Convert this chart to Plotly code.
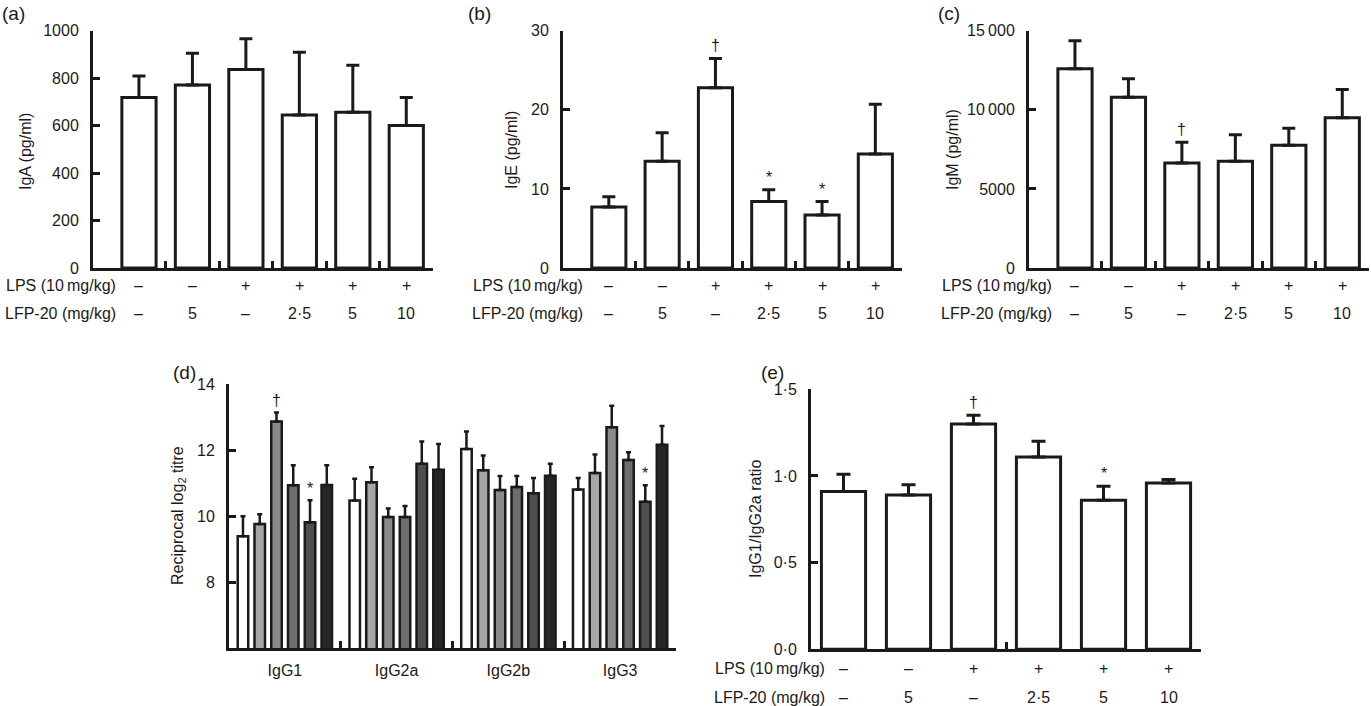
import plotly.graph_objects as go

W, H = 1371, 706
FONT = "Liberation Sans, Arial, sans-serif"
INK = "#1a1a1a"

# 处理组（6 组）
lps_row = ["–", "–", "+", "+", "+", "+"]
lfp_row = ["–", "5", "–", "2·5", "5", "10"]

# (a)-(c), (e): 均值 与 误差棒上端
iga_mean = [718, 771, 837, 645, 656, 600]
iga_upper = [809, 905, 966, 909, 854, 719]
ige_mean = [7.7, 13.5, 22.8, 8.4, 6.7, 14.4]
ige_upper = [9.0, 17.1, 26.5, 9.9, 8.4, 20.7]
ige_sig = ["", "", "†", "*", "*", ""]
igm_mean = [12600, 10790, 6630, 6750, 7760, 9490]
igm_upper = [14370, 11970, 7950, 8420, 8840, 11280]
igm_sig = ["", "", "†", "", "", ""]
ratio_mean = [0.91, 0.89, 1.30, 1.11, 0.86, 0.96]
ratio_upper = [1.01, 0.95, 1.35, 1.20, 0.94, 0.98]
ratio_sig = ["", "", "†", "", "*", ""]

# (d): 行 = 处理组, 列 = IgG 亚型
igg_classes = ["IgG1", "IgG2a", "IgG2b", "IgG3"]
titre_mean = [
    [9.39, 10.47, 12.03, 10.80],
    [9.76, 11.02, 11.39, 11.30],
    [12.86, 9.97, 10.79, 12.69],
    [10.93, 9.97, 10.88, 11.70],
    [9.81, 11.58, 10.69, 10.43],
    [10.94, 11.40, 11.22, 12.16],
]
titre_upper = [
    [9.99, 11.13, 12.56, 11.15],
    [10.05, 11.48, 11.83, 11.86],
    [13.14, 10.23, 11.21, 13.34],
    [11.54, 10.30, 11.21, 11.93],
    [10.48, 12.26, 11.15, 10.93],
    [11.54, 12.18, 11.58, 12.73],
]
titre_sig = [
    ["", "", "", ""],
    ["", "", "", ""],
    ["†", "", "", ""],
    ["", "", "", ""],
    ["*", "", "", "*"],
    ["", "", "", ""],
]
group_fill = ["#ffffff", "#a6a6a6", "#8a8a8a", "#6e6e6e", "#4f4f4f", "#262626"]


def px_x(p):
    return p / W


def px_y(p):
    return 1 - p / H


fig = go.Figure()
annotations = []


def note(**kw):
    kw.setdefault("showarrow", False)
    kw.setdefault("xanchor", "center")
    kw.setdefault("yanchor", "middle")
    kw.setdefault("font", dict(size=16))
    annotations.append(kw)


def add_single_panel(ax, mean, upper, sig, cap, bw):
    x = list(range(len(mean)))
    fig.add_trace(go.Bar(
        x=x, y=mean, width=bw, offset=-bw / 2, xaxis=f"x{ax}", yaxis=f"y{ax}",
        marker=dict(color="#ffffff", line=dict(color=INK, width=3)),
        error_y=dict(type="data", symmetric=False,
                     array=[u - m for u, m in zip(upper, mean)],
                     arrayminus=[0] * len(mean),
                     color=INK, thickness=3, width=cap),
        showlegend=False))
    for i, s in enumerate(sig):
        if s:
            note(x=i, y=upper[i], xref=f"x{ax}", yref=f"y{ax}", text=s,
                 yanchor="bottom", yshift=2)


def add_table(ax, label_right, y_lps, y_lfp):
    for yy, lab, row in [(y_lps, "LPS (10\u2009mg/kg)", lps_row),
                         (y_lfp, "LFP-20 (mg/kg)", lfp_row)]:
        note(x=px_x(label_right), y=px_y(yy), xref="paper", yref="paper",
             text=lab, xanchor="right")
        for i, t in enumerate(row):
            note(x=i, y=px_y(yy), xref=f"x{ax}", yref="paper", text=t)


add_single_panel("", iga_mean, iga_upper, [""] * 6, 6.5, 0.64)
add_single_panel("2", ige_mean, ige_upper, ige_sig, 6.5, 0.64)
add_single_panel("3", igm_mean, igm_upper, igm_sig, 6.5, 0.64)
add_single_panel("5", ratio_mean, ratio_upper, ratio_sig, 7, 0.68)

# (d) 分组柱状图
slot, bw_d = 0.15, 0.094
for k in range(6):
    fig.add_trace(go.Bar(
        x=igg_classes, y=titre_mean[k], xaxis="x4", yaxis="y4",
        width=bw_d, offset=-0.45 + k * slot + (slot - bw_d) / 2,
        marker=dict(color=group_fill[k], line=dict(color=INK, width=2.5)),
        error_y=dict(type="data", symmetric=False,
                     array=[u - m for u, m in zip(titre_upper[k], titre_mean[k])],
                     arrayminus=[0] * 4, color=INK, thickness=2.5, width=2.5),
        showlegend=False))
    for j, s in enumerate(titre_sig[k]):
        if s:
            note(x=j - 0.45 + (k + 0.5) * slot, y=titre_upper[k][j], xref="x4", yref="y4",
                 text=s, yanchor="bottom", yshift=1)

add_table("", 118, 285, 313)
add_table("2", 585, 285, 313)
add_table("3", 1054, 285, 313)
add_table("5", 827, 668, 697)

# y 轴标题
for cx, cy, t in [(25, 152, "IgA (pg/ml)"), (512, 150, "IgE (pg/ml)"),
                  (953, 150, "IgM (pg/ml)"), (178, 516, "Reciprocal log<sub>2</sub> titre"),
                  (755, 519, "IgG1/IgG2a ratio")]:
    note(x=px_x(cx), y=px_y(cy), xref="paper", yref="paper", text=t, textangle=-90)

# 面板字母
for lx, ly, t in [(0, 13, "(a)"), (466, 13, "(b)"), (936, 13, "(c)"),
                  (171, 373, "(d)"), (759, 373, "(e)")]:
    note(x=px_x(lx), y=px_y(ly), xref="paper", yref="paper", text=t,
         xanchor="left", font=dict(size=19))

axis_style = dict(showline=True, linecolor=INK, linewidth=3, showgrid=False, zeroline=False,
                  ticks="inside", ticklen=7, tickwidth=2.5, tickcolor=INK, automargin=False,
                  tickfont=dict(size=16, color=INK), fixedrange=True)
top_y = [px_y(268), px_y(30.7)]
boundaries = [0.5, 1.5, 2.5, 3.5, 4.5, 5.5]

fig.update_layout(
    width=W, height=H, margin=dict(l=0, r=0, t=0, b=0, pad=0, autoexpand=False),
    paper_bgcolor="white", plot_bgcolor="white",
    font=dict(family=FONT, color=INK, size=16),
    barmode="overlay", showlegend=False,
    annotations=annotations,
    xaxis=dict(domain=[px_x(93), px_x(433)], range=[-0.86, 5.5], anchor="y",
               tickvals=boundaries, showticklabels=False, **axis_style),
    yaxis=dict(domain=top_y, range=[0, 1000], anchor="x", tickvals=[0, 200, 400, 600, 800, 1000],
               ticklabelstandoff=8, **axis_style),
    xaxis2=dict(domain=[px_x(563), px_x(902)], range=[-0.86, 5.5], anchor="y2",
                tickvals=boundaries, showticklabels=False, **axis_style),
    yaxis2=dict(domain=top_y, range=[0, 30], anchor="x2", tickvals=[0, 10, 20, 30],
                ticklabelstandoff=8, **axis_style),
    xaxis3=dict(domain=[px_x(1029), px_x(1369)], range=[-0.86, 5.5], anchor="y3",
                tickvals=boundaries, showticklabels=False, **axis_style),
    yaxis3=dict(domain=top_y, range=[0, 15000], anchor="x3", tickvals=[0, 5000, 10000, 15000],
                ticktext=["0", "5000", "10\u2009000", "15\u2009000"],
                ticklabelstandoff=8, **axis_style),
    xaxis4=dict(domain=[px_x(229), px_x(676)], range=[-0.5, 3.5], anchor="y4",
                type="category", tickson="boundaries", ticklabelstandoff=6, **axis_style),
    yaxis4=dict(domain=[px_y(648), px_y(384)], range=[6, 14], anchor="x4",
                tickvals=[8, 10, 12, 14], ticklabelstandoff=8, **axis_style),
    xaxis5=dict(domain=[px_x(811), px_x(1201)], range=[-0.5, 5.5], anchor="y5",
                tickvals=[2.5, 5.5], showticklabels=False, **axis_style),
    yaxis5=dict(domain=[px_y(649.3), px_y(389.3)], range=[0, 1.5], anchor="x5",
                tickvals=[0, 0.5, 1.0, 1.5], ticktext=["0·0", "0·5", "1·0", "1·5"],
                ticklabelstandoff=8, **axis_style),
)

# 页面默认 body 边距 8px，去掉以便与画布对齐
fig.write_html("out.html", config={"displayModeBar": False},
               post_script="document.body.style.margin='0';")
